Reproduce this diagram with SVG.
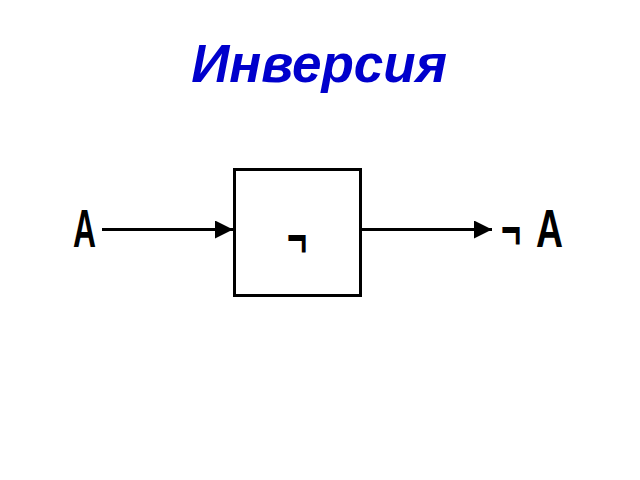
<svg xmlns="http://www.w3.org/2000/svg" width="640" height="480" viewBox="0 0 640 480">
<style>
.t{font-family:"Liberation Sans",Arial,sans-serif;font-weight:bold;font-size:53px;fill:#000}
.ln{stroke:#000;stroke-width:3;fill:none}
</style>
<defs><marker id="ah" markerUnits="userSpaceOnUse" markerWidth="18" markerHeight="18" refX="18" refY="9" orient="auto"><path d="M0,0L18,9L0,18Z" fill="#000"/></marker></defs>
<rect width="640" height="480" fill="#fff"/>
<text x="319" y="82" text-anchor="middle" font-family="Liberation Sans,Arial,sans-serif" font-weight="bold" font-style="italic" font-size="53" fill="#0000cc">Инверсия</text>
<g id="input"><text class="t" x="73" y="247" textLength="23" lengthAdjust="spacingAndGlyphs">A</text></g>
<g id="not"><rect class="ln" x="234.5" y="169.5" width="126" height="126"/><text class="t" x="287" y="256" textLength="20" lengthAdjust="spacingAndGlyphs">¬</text></g>
<g id="output"><text class="t" x="501" y="248" textLength="20" lengthAdjust="spacingAndGlyphs">¬</text><text class="t" x="536" y="247" textLength="27" lengthAdjust="spacingAndGlyphs">A</text></g>
<g id="connectors">
<line class="ln" x1="102" y1="229.5" x2="233" y2="229.5" marker-end="url(#ah)"/>
<line class="ln" x1="361" y1="229.5" x2="492" y2="229.5" marker-end="url(#ah)"/>
</g>
</svg>
